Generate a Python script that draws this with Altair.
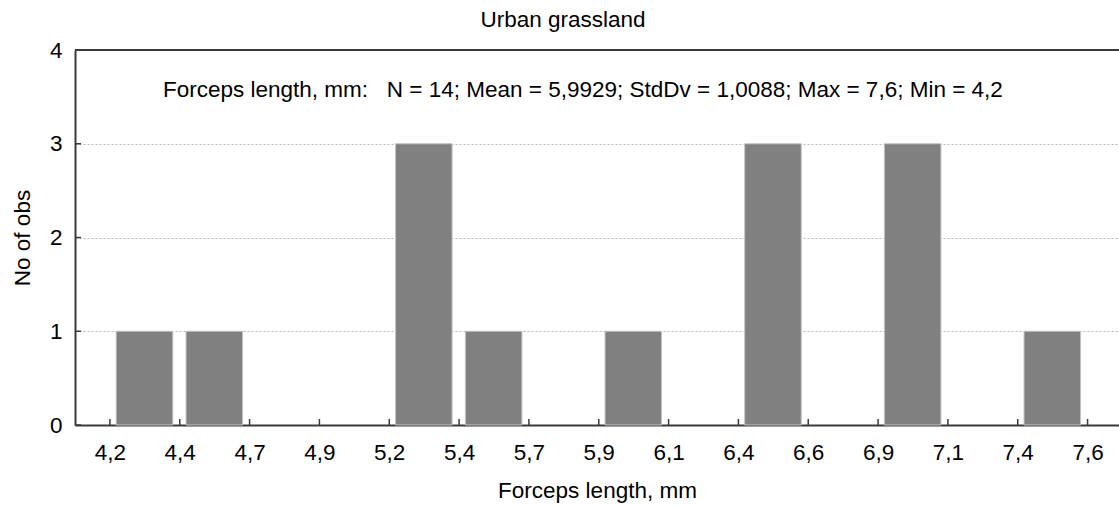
import altair as alt
import pandas as pd

# Histogram of forceps length (urban grassland sample)
edge_labels = ["4,2", "4,4", "4,7", "4,9", "5,2", "5,4", "5,7", "5,9",
               "6,1", "6,4", "6,6", "6,9", "7,1", "7,4", "7,6"]
bin_counts = [1, 1, 0, 0, 3, 1, 0, 1, 0, 3, 0, 3, 0, 1]
count_ticks = [0, 1, 2, 3, 4]

chart_title = "Urban grassland"
x_title = "Forceps length, mm"
y_title = "No of obs"
summary = ("Forceps length, mm:\u00a0\u00a0 N = 14; Mean = 5,9929; "
           "StdDv = 1,0088; Max = 7,6; Min = 4,2")

W, H = 1044, 375
FONT = "Liberation Sans"
FS = 22.5
INK = "#000000"
AXIS_COLOR = "#3a3a3a"

bars_df = pd.DataFrame({"bin": list(range(len(bin_counts))), "count": bin_counts})
edges_df = pd.DataFrame({"edge": list(range(len(edge_labels)))})
yt_df = pd.DataFrame({"v": count_ticks})
text_df = pd.DataFrame({"t": [summary], "title": [chart_title]})

label_expr = "[" + ",".join(f"'{s}'" for s in edge_labels) + "][datum.value]"

x_scale = alt.Scale(domain=[-0.5, 14.45], nice=False, zero=False)
y_scale = alt.Scale(domain=[0, 4], nice=False)

x_axis = alt.Axis(
    values=list(range(len(edge_labels))), labelExpr=label_expr,
    ticks=False, labelPadding=16, labelFont=FONT, labelFontSize=FS,
    labelColor=INK, domainColor=AXIS_COLOR, domainWidth=2, grid=False,
    title=x_title, titleFont=FONT, titleFontSize=FS, titleFontWeight="normal",
    titleColor=INK, titleX=W / 2, titleY=72, titleBaseline="alphabetic",
    titleAlign="center", labelOverlap=False,
)
y_axis = alt.Axis(
    values=count_ticks, format="d", ticks=False, labelPadding=13,
    labelFont=FONT, labelFontSize=FS, labelColor=INK,
    domainColor=AXIS_COLOR, domainWidth=2,
    grid=True, gridDash=[2, 2], gridColor="#b4b4b4", gridWidth=1,
    title=y_title, titleFont=FONT, titleFontSize=FS, titleFontWeight="normal",
    titleColor=INK, titleAngle=-90, titleX=-53, titleY=H / 2,
    titleAlign="center", titleBaseline="middle",
)

bars = alt.Chart(bars_df).transform_filter("datum.count > 0").transform_calculate(
    left="datum.bin + 0.09", right="datum.bin + 0.9"
).mark_rect(color="#808080", stroke="#c4c4c4", strokeWidth=1).encode(
    x=alt.X("left:Q", scale=x_scale, axis=x_axis),
    x2="right:Q",
    y=alt.Y("count:Q", scale=y_scale, axis=y_axis),
    y2=alt.datum(0),
)

# inward tick marks on both axes
x_ticks = alt.Chart(edges_df).mark_rule(color=AXIS_COLOR, strokeWidth=1.5).encode(
    x=alt.X("edge:Q", scale=x_scale, axis=x_axis),
    y=alt.value(H), y2=alt.value(H - 6),
)
y_ticks = alt.Chart(yt_df).mark_rule(color=AXIS_COLOR, strokeWidth=1.5).encode(
    y=alt.Y("v:Q", scale=y_scale, axis=y_axis),
    x=alt.value(0), x2=alt.value(6),
)

top_line = alt.Chart(text_df).mark_rule(color=AXIS_COLOR, strokeWidth=2).encode(
    x=alt.value(0), x2=alt.value(W), y=alt.value(0),
)

note = alt.Chart(text_df).mark_text(
    align="left", baseline="alphabetic", font=FONT, fontSize=FS, color=INK
).encode(text="t:N", x=alt.value(88), y=alt.value(47))

heading = alt.Chart(text_df).mark_text(
    align="center", baseline="alphabetic", font=FONT, fontSize=FS, color=INK
).encode(text="title:N", x=alt.value(488), y=alt.value(-23))

chart = alt.layer(bars, x_ticks, y_ticks, top_line, note, heading).properties(
    width=W, height=H,
    padding={"left": 75, "top": 50, "right": 0, "bottom": 81},
    autosize=alt.AutoSizeParams(type="none"),
).configure_view(stroke=None)

chart.save("out.html", embed_options={"renderer": "svg", "actions": False})
